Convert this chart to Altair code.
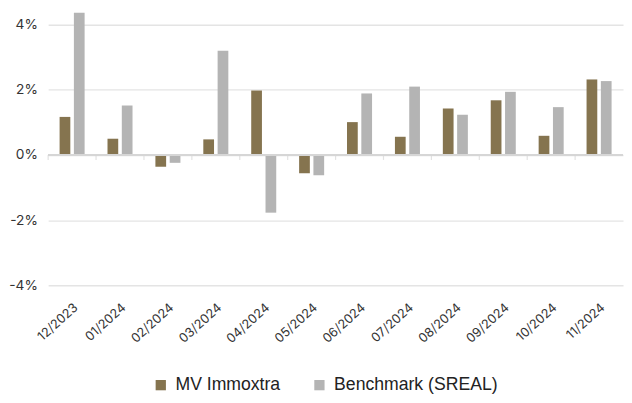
import altair as alt
import pandas as pd

months = ["12/2023", "01/2024", "02/2024", "03/2024", "04/2024", "05/2024",
          "06/2024", "07/2024", "08/2024", "09/2024", "10/2024", "11/2024"]
mv_immoxtra = [1.17, 0.50, -0.36, 0.48, 1.98, -0.56, 1.01, 0.56, 1.43, 1.68, 0.59, 2.32]
benchmark = [4.37, 1.52, -0.24, 3.20, -1.77, -0.62, 1.89, 2.10, 1.24, 1.94, 1.47, 2.27]
series = ["MV Immoxtra", "Benchmark (SREAL)"]
y_ticks = [-4, -2, 0, 2, 4]

df = pd.DataFrame({
    "month": months * 2,
    "series": [series[0]] * len(months) + [series[1]] * len(months),
    "value": mv_immoxtra + benchmark,
})
ticks_df = pd.DataFrame({"month": months})

x_enc = alt.X("month:N", sort=months, title=None,
              scale=alt.Scale(paddingInner=0, paddingOuter=0),
              axis=alt.Axis(labelAngle=-42, domain=False, ticks=False, grid=False,
                            labelPadding=4, labelFontSize=13, labelColor="#333333",
                            labelFont="Inter"))

bars = (
    alt.Chart(df)
    .mark_bar()
    .encode(
        x=x_enc,
        xOffset=alt.XOffset("series:N", sort=series,
                            scale=alt.Scale(paddingInner=0.25, paddingOuter=0.8)),
        y=alt.Y("value:Q", title=None,
                scale=alt.Scale(domain=[-4.36, 4.36], nice=False, zero=True),
                axis=alt.Axis(values=y_ticks, labelExpr="datum.value + '%'",
                              domain=False, ticks=False, gridColor="#e4e4e4",
                              gridWidth=1.5, labelPadding=11, labelFontSize=14,
                              labelColor="#333333", labelFont="Inter")),
        color=alt.Color("series:N", sort=series,
                        scale=alt.Scale(domain=series, range=["#85744f", "#b4b4b4"]),
                        legend=alt.Legend(title=None, orient="none", direction="horizontal",
                                          legendX=106, legendY=371, symbolType="square",
                                          symbolSize=110, symbolStrokeWidth=0,
                                          labelFontSize=18, labelFont="Liberation Sans",
                                          labelColor="#222222", labelOffset=6,
                                          labelLimit=400, columnPadding=30, padding=0)),
    )
)

zero_line = (
    alt.Chart(df)
    .mark_rule(color="#d6d6d6", strokeWidth=1.5)
    .encode(y=alt.datum(0))
)

tick_marks = (
    alt.Chart(ticks_df)
    .mark_tick(orient="vertical", size=5, thickness=1.2, color="#d6d6d6", yOffset=2.5)
    .encode(x=alt.X("month:N", sort=months, bandPosition=0), y=alt.datum(0))
)

chart = (
    alt.layer(bars, zero_line, tick_marks)
    .properties(width=587, height=290, padding=0)
    .configure_view(stroke=None)
)

chart.save("out.html", embed_options={"renderer": "svg", "actions": False})
